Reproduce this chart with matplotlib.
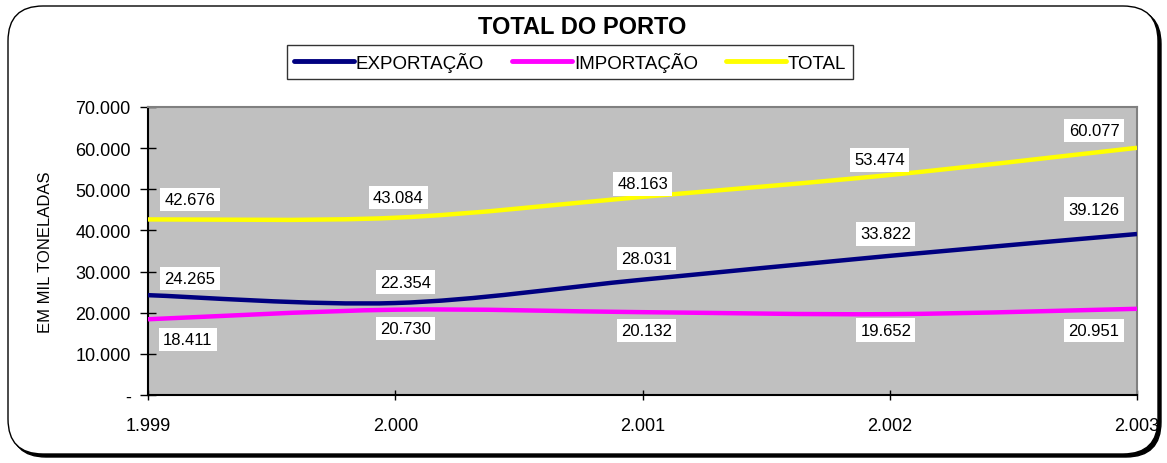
import matplotlib
matplotlib.use("Agg")
import matplotlib.pyplot as plt
from matplotlib.path import Path
from matplotlib.patches import PathPatch, FancyBboxPatch
from matplotlib.lines import Line2D

plt.rcParams['font.family'] = ['Liberation Sans', 'DejaVu Sans']

anos = [1999, 2000, 2001, 2002, 2003]
ano_labels = ["1.999", "2.000", "2.001", "2.002", "2.003"]
exportacao = [24265, 22354, 28031, 33822, 39126]
importacao = [18411, 20730, 20132, 19652, 20951]
total = [42676, 43084, 48163, 53474, 60077]
y_ticks = [0, 10000, 20000, 30000, 40000, 50000, 60000, 70000]
y_labels = ["-", "10.000", "20.000", "30.000", "40.000", "50.000", "60.000", "70.000"]

# label offsets in pixels (dx, dy up)
off_exp = [(42, 17), (10, 21), (4, 21), (-4, 22), (-43, 25)]
off_imp = [(40, -20), (10, -19), (4, -18), (-4, -16), (-43, -22)]
off_tot = [(42, 20), (3, 20), (0, 13), (-10, 15), (-43, 17)]


def fmt(v):
    return "{:,}".format(v).replace(",", ".")


def smooth_path(xs, ys):
    # bezier like excel's smoothed line
    pts = list(zip(xs, ys))
    verts = [pts[0]]
    codes = [Path.MOVETO]
    n = len(pts)
    for i in range(n - 1):
        p0 = pts[max(i - 1, 0)]
        p1 = pts[i]
        p2 = pts[i + 1]
        p3 = pts[min(i + 2, n - 1)]
        c1 = (p1[0] + (p2[0] - p0[0]) / 6, p1[1] + (p2[1] - p0[1]) / 6)
        c2 = (p2[0] - (p3[0] - p1[0]) / 6, p2[1] - (p3[1] - p1[1]) / 6)
        verts += [c1, c2, p2]
        codes += [Path.CURVE4] * 3
    return Path(verts, codes)


fig = plt.figure(figsize=(11.67, 4.64), dpi=100)

# rounded frame with shadow
shadow = FancyBboxPatch((11 / 1167, 6 / 464), 1150 / 1167, 448 / 464,
                        boxstyle="round,pad=0,rounding_size=0.03",
                        transform=fig.transFigure, facecolor="black",
                        edgecolor="black", lw=1, zorder=-3, mutation_aspect=1167 / 464)
frame = FancyBboxPatch((8 / 1167, 9 / 464), 1150 / 1167, 448 / 464,
                       boxstyle="round,pad=0,rounding_size=0.03",
                       transform=fig.transFigure, facecolor="white",
                       edgecolor="black", lw=1, zorder=-2, mutation_aspect=1167 / 464)
fig.patches.extend([shadow, frame])

ax = fig.add_axes([148 / 1167, 68 / 464, 989 / 1167, 288 / 464])
ax.set_zorder(2)
ax.set_facecolor("#C0C0C0")
ax.set_xlim(1999, 2003)
ax.set_ylim(0, 70000)

series = [
    ("EXPORTAÇÃO", exportacao, "#000080", off_exp),
    ("IMPORTAÇÃO", importacao, "#FF00FF", off_imp),
    ("TOTAL", total, "#FFFF00", off_tot),
]

handles = []
for name, vals, color, offs in series:
    ax.add_patch(PathPatch(smooth_path(anos, vals), facecolor="none",
                           edgecolor=color, lw=3.2, capstyle="butt", zorder=3))
    handles.append(Line2D([0], [0], color=color, lw=3.5, solid_capstyle="round"))
    for x, v, (dx, dy) in zip(anos, vals, offs):
        ax.annotate(fmt(v), (x, v), xytext=(dx * 0.72, dy * 0.72),
                    textcoords="offset points", ha="center", va="center",
                    fontsize=12, zorder=5, annotation_clip=False,
                    bbox=dict(boxstyle="square,pad=0.25", fc="white", ec="none"))

ax.set_xticks(anos)
ax.set_xticklabels(ano_labels)
ax.set_yticks(y_ticks)
ax.set_yticklabels(y_labels)
ax.tick_params(axis="both", direction="inout", width=1,
               labelsize=13, color="black")
ax.tick_params(axis="x", length=7, pad=12)
ax.tick_params(axis="y", length=11, pad=7)
ax.spines["left"].set_color("black")
ax.spines["bottom"].set_color("black")
ax.spines["top"].set_color("#808080")
ax.spines["right"].set_color("#808080")
for s in ax.spines.values():
    s.set_linewidth(1.5)
ax.set_ylabel("EM MIL TONELADAS", fontsize=12, labelpad=16)

fig.text(582 / 1167, 1 - 27 / 464, "TOTAL DO PORTO", ha="center", va="center",
         fontsize=17, fontweight="bold")

leg = fig.legend(handles, [s[0] for s in series], loc="center",
                 bbox_to_anchor=(570 / 1167, 1 - 63 / 464), ncol=3,
                 fontsize=13.5, frameon=True, fancybox=False, handlelength=3.2,
                 handletextpad=0.1, columnspacing=1.5, borderpad=0.35)
leg.get_frame().set_edgecolor("black")
leg.get_frame().set_linewidth(1)

fig.savefig("out.png", dpi=100)
